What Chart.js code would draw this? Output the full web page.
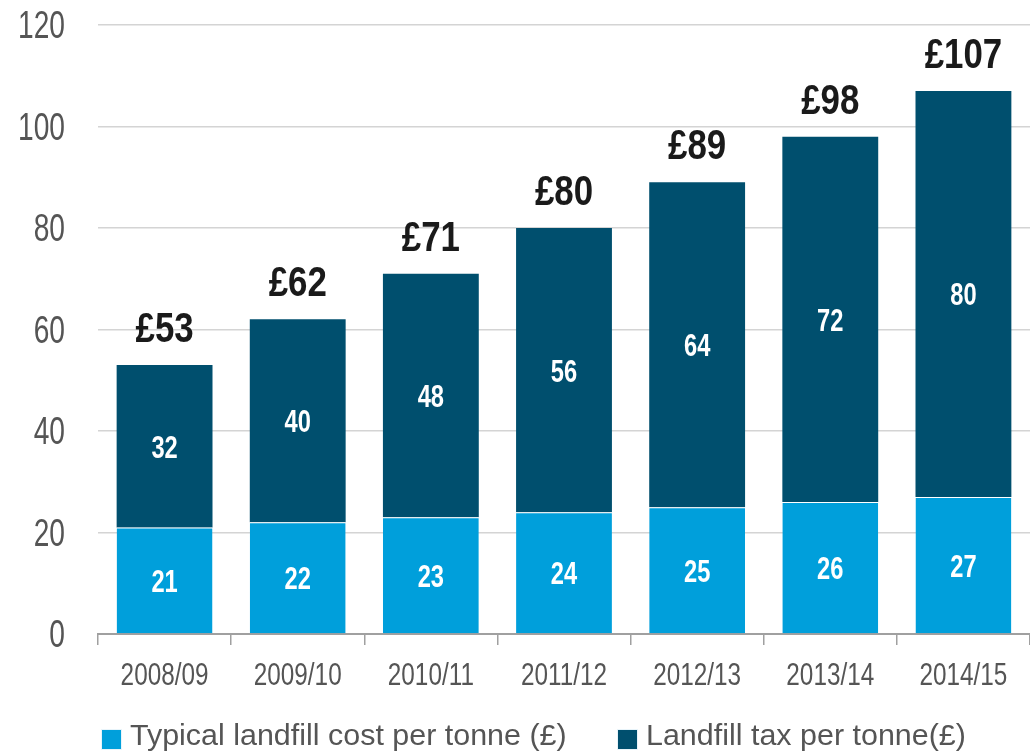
<!DOCTYPE html>
<html>
<head>
<meta charset="utf-8">
<script src="https://cdn.jsdelivr.net/npm/chart.js@4"></script>
<style>
  html, body { margin: 0; padding: 0; background: #fff; }
  #wrap { width: 1030px; height: 755px; }
</style>
</head>
<body>
<div id="wrap"><canvas id="landfillChart"></canvas></div>
<script>
// chart data
var years = ["2008/09", "2009/10", "2010/11", "2011/12", "2012/13", "2013/14", "2014/15"];
var landfillCost = [21, 22, 23, 24, 25, 26, 27];
var landfillTax = [32, 40, 48, 56, 64, 72, 80];
var totals = [53, 62, 71, 80, 89, 98, 107];
var yTicks = [0, 20, 40, 60, 80, 100, 120];
var seriesNames = ['Typical landfill cost per tonne (£)', 'Landfill tax per tonne(£)'];
var seriesColors = ['#009fdb', '#004f6e'];

var FONT = "'Liberation Sans', Arial, sans-serif";
var GREY = '#555';

// the original uses a narrow font, so squeeze text horizontally
function narrowText(ctx, txt, x, y, font, color, sx, align) {
    ctx.save();
    ctx.translate(x, y);
    ctx.scale(sx, 1);
    ctx.font = font;
    ctx.fillStyle = color;
    ctx.textAlign = align || 'center';
    ctx.textBaseline = 'alphabetic';
    ctx.fillText(txt, 0, 0);
    ctx.restore();
}

// axis labels, bar labels, totals and legend
var textLayer = {
    id: 'textLayer',
    afterDraw: function(chart) {
        var ctx = chart.ctx;
        var yScale = chart.scales.y;
        var xScale = chart.scales.x;

        yTicks.forEach(function(v) {
            narrowText(ctx, String(v), 65, yScale.getPixelForValue(v) + 13,
                '38px ' + FONT, GREY, 0.74, 'right');
        });

        years.forEach(function(label, i) {
            narrowText(ctx, label, xScale.getPixelForValue(i), 685,
                '32px ' + FONT, GREY, 0.76, 'center');
        });

        chart.data.datasets.forEach(function(ds, i) {
            chart.getDatasetMeta(i).data.forEach(function(bar, j) {
                narrowText(ctx, String(ds.data[j]), bar.x, (bar.y + bar.base) / 2 + 11.5,
                    'bold 32px ' + FONT, '#fff', 0.74, 'center');
            });
        });

        var top = chart.getDatasetMeta(chart.data.datasets.length - 1);
        top.data.forEach(function(bar, j) {
            narrowText(ctx, '£' + totals[j], bar.x, bar.y - 23,
                'bold 42px ' + FONT, '#1a1a1a', 0.83, 'center');
        });

        // legend
        var legendX = [101, 617];
        seriesNames.forEach(function(name, i) {
            ctx.fillStyle = seriesColors[i];
            ctx.fillRect(legendX[i], 729, 20, 20);
            ctx.strokeStyle = '#e8f4fa';
            ctx.lineWidth = 1;
            ctx.strokeRect(legendX[i] + 0.5, 729.5, 20, 20);
            narrowText(ctx, name, legendX[i] + 29, 745, '30px ' + FONT, GREY, 1.015, 'left');
        });
    }
};

var ctx = document.getElementById('landfillChart').getContext('2d');
var landfillChart = new Chart(ctx, {
    type: 'bar',
    data: {
        labels: years,
        datasets: [{
            label: seriesNames[0],
            data: landfillCost,
            backgroundColor: seriesColors[0],
            borderColor: '#ffffff',
            borderWidth: { top: 1, left: 0, right: 0, bottom: 0 },
            borderSkipped: false,
            barPercentage: 0.72,
            categoryPercentage: 1.0
        }, {
            label: seriesNames[1],
            data: landfillTax,
            backgroundColor: seriesColors[1],
            borderWidth: 0,
            barPercentage: 0.72,
            categoryPercentage: 1.0
        }]
    },
    options: {
        responsive: true,
        maintainAspectRatio: false,
        animation: false,
        layout: { padding: { top: 25, right: 0, left: 98, bottom: 110 } },
        scales: {
            x: {
                stacked: true,
                grid: {
                    display: true,
                    offset: true,
                    drawOnChartArea: false,
                    tickLength: 11,
                    color: '#a0a0a0',
                    lineWidth: 1.5
                },
                border: { display: true, color: '#a0a0a0', width: 2 },
                ticks: { display: false }
            },
            y: {
                stacked: true,
                min: 0,
                max: 120,
                afterBuildTicks: function(axis) {
                    axis.ticks = yTicks.map(function(v) { return { value: v }; });
                },
                grid: {
                    color: '#d4d4d4',
                    lineWidth: 1.5,
                    drawTicks: false
                },
                border: { display: false },
                ticks: { display: false }
            }
        },
        plugins: {
            legend: { display: false },
            tooltip: { enabled: false }
        }
    },
    plugins: [textLayer]
});
</script>
</body>
</html>
